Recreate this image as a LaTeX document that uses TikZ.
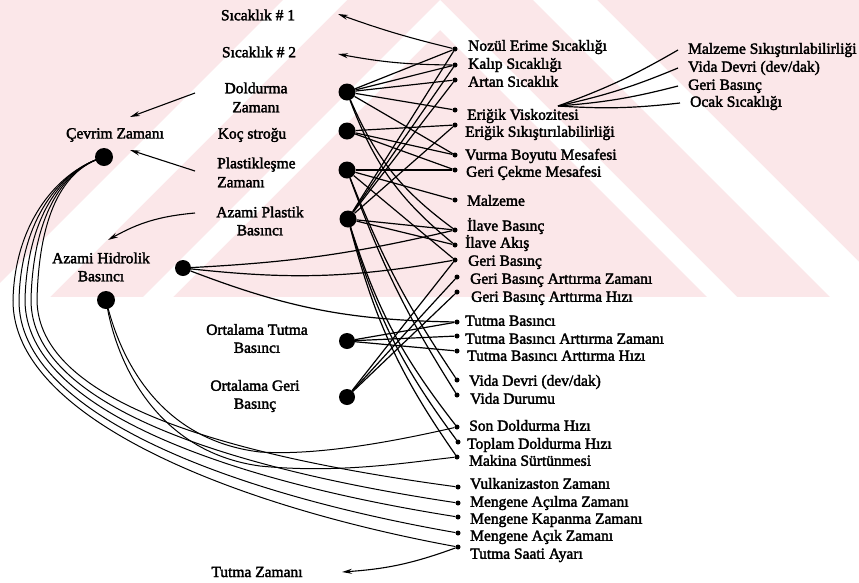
\documentclass[tikz,border=0pt]{standalone}
\usepackage{fontspec}
\setmainfont{Liberation Serif}
\usetikzlibrary{arrows.meta,calc}
\pgfdeclarelayer{wm}
\pgfdeclarelayer{bg}
\pgfsetlayers{wm,bg,main}
\definecolor{wmpink}{RGB}{251,231,233}
% slightly heavier glyphs: fill and stroke the text outlines
\newcommand{\inkytext}{\special{pdf:literal direct 2 Tr 0.35 w}}
\begin{document}
\begin{tikzpicture}[x=1pt,y=-1pt,
  bigdot/.style={circle,fill=black,inner sep=0pt,minimum size=17pt},
  sdot/.style={circle,fill=black,inner sep=0pt,minimum size=5pt},
  lab/.style={font=\fontsize{15.5}{18}\selectfont\inkytext,inner sep=0pt},
  rlab/.style={lab,anchor=west,text height=10.5pt,text depth=3pt},
  link/.style={line width=1.2pt},
  loopline/.style={line width=1pt},
  arr/.style={line width=1.1pt,-{Stealth[length=10pt,width=5pt]}}]
\useasboundingbox (0,0) rectangle (859,582);

% ---------- faint striped background of the upper band ----------
\begin{pgfonlayer}{wm}
  \fill[wmpink] (0,0) rectangle (859,297);
  \begin{scope}
    \clip (0,0) rectangle (859,297);
    % white chevron stripes (v = y - |x-440|)
    \fill[white] (440,0) -- (140,300) -- (170,300) -- (440,30) -- (710,300) -- (740,300) -- cycle;
    \fill[white] (440,-157) -- (-17,300) -- (47,300) -- (440,-93) -- (833,300) -- (897,300) -- cycle;
  \end{scope}
\end{pgfonlayer}

% ---------- right column: small dots and their labels ----------
\node[sdot] (nz) at (455,49) {};  \node[rlab] (nz-t) at (468,47) {Nozül Erime Sıcaklığı};
\node[sdot] (kl) at (455,65) {};  \node[rlab] (kl-t) at (468,65) {Kalıp Sıcaklığı};
\node[sdot] (ar) at (455,80) {};  \node[rlab] (ar-t) at (468,83) {Artan Sıcaklık};
\node[sdot] (ev) at (455,110) {}; \node[rlab] (ev-t) at (467,116) {Eriğik Viskozitesi};
\node[sdot] (es) at (455,125) {}; \node[rlab] (es-t) at (465,133) {Eriğik Sıkıştırılabilirliği};
\node[sdot] (vb) at (455,155) {}; \node[rlab] (vb-t) at (465,156) {Vurma Boyutu Mesafesi};
\node[sdot] (gc) at (455,170) {}; \node[rlab] (gc-t) at (466,173) {Geri Çekme Mesafesi};
\node[sdot] (mz) at (455,200) {}; \node[rlab] (mz-t) at (467,202) {Malzeme};
\node[sdot] (ib) at (455,230) {}; \node[rlab] (ib-t) at (467,227) {İlave Basınç};
\node[sdot] (ia) at (455,245) {}; \node[rlab] (ia-t) at (465,244) {İlave Akış};
\node[sdot] (gb) at (455,260) {}; \node[rlab] (gb-t) at (468,262) {Geri Basınç};
\node[sdot] (gz) at (457,277) {}; \node[rlab] (gz-t) at (470,280) {Geri Basınç Arttırma Zamanı};
\node[sdot] (gh) at (457,292) {}; \node[rlab] (gh-t) at (471,298) {Geri Basınç Arttırma Hızı};
\node[sdot] (tb) at (457,322) {}; \node[rlab] (tb-t) at (465,322) {Tutma Basıncı};
\node[sdot] (tz) at (457,336) {}; \node[rlab] (tz-t) at (465,340) {Tutma Basıncı Arttırma Zamanı};
\node[sdot] (th) at (457,351) {}; \node[rlab] (th-t) at (467,357) {Tutma Basıncı Arttırma Hızı};
\node[sdot] (vd) at (457,380) {}; \node[rlab] (vd-t) at (469,382) {Vida Devri (dev/dak)};
\node[sdot] (vu) at (457,395) {}; \node[rlab] (vu-t) at (470,400) {Vida Durumu};
\node[sdot] (sd) at (457,427) {}; \node[rlab] (sd-t) at (469,427) {Son Doldurma Hızı};
\node[sdot] (td) at (458,442) {}; \node[rlab] (td-t) at (467,445) {Toplam Doldurma Hızı};
\node[sdot] (ms) at (457,457) {}; \node[rlab] (ms-t) at (469,462) {Makina Sürtünmesi};
\node[sdot] (vz) at (458,487) {}; \node[rlab] (vz-t) at (470,485) {Vulkanizaston Zamanı};
\node[sdot] (ma) at (458,503) {}; \node[rlab] (ma-t) at (470,503) {Mengene Açılma Zamanı};
\node[sdot] (mk) at (458,517) {}; \node[rlab] (mk-t) at (470,520) {Mengene Kapanma Zamanı};
\node[sdot] (mc) at (458,533) {}; \node[rlab] (mc-t) at (470,537) {Mengene Açık Zamanı};
\node[sdot] (ts) at (458,547) {}; \node[rlab] (ts-t) at (470,555) {Tutma Saati Ayarı};

% ---------- factors of the melt viscosity ----------
\coordinate (evp) at (558,106);
\node[rlab] (fr1) at (688,50)  {Malzeme Sıkıştırılabilirliği};
\node[rlab] (fr2) at (688,68)  {Vida Devri (dev/dak)};
\node[rlab] (fr3) at (688,86)  {Geri Basınç};
\node[rlab] (fr4) at (690,103) {Ocak Sıcaklığı};

% ---------- big dots ----------
\node[bigdot] (D) at (347,92) {};
\node[bigdot] (K) at (347,131) {};
\node[bigdot] (P) at (347,170) {};
\node[bigdot] (A) at (348,219) {};
\node[bigdot,minimum size=16pt] (T) at (347,341) {};
\node[bigdot,minimum size=16pt] (G) at (347,397) {};
\node[bigdot,minimum size=16pt] (H) at (183,268) {};
\node[bigdot,minimum size=18pt] (B) at (106,300) {};
\node[bigdot,minimum size=18pt] (C) at (104,157) {};

% ---------- left labels ----------
\node[lab] (s1) at (258,15) {Sıcaklık \# 1};
\node[lab] (s2) at (259,52) {Sıcaklık \# 2};
\node[lab,align=center,font=\fontsize{15.5}{19}\selectfont\inkytext] (dz) at (256,97.5) {Doldurma\\Zamanı};
\node[lab] (ks) at (252,135) {Koç stroğu};
\node[lab,align=left,anchor=west,font=\fontsize{15.5}{19}\selectfont\inkytext] (pz) at (217,172.5) {Plastikleşme\\Zamanı};
\node[lab,align=center] (ap) at (260,221) {Azami Plastik\\Basıncı};
\node[lab] (cv) at (115,135) {Çevrim Zamanı};
\node[lab,align=center] (ah) at (101,267) {Azami Hidrolik\\Basıncı};
\node[lab,align=center] (ot) at (257,338.5) {Ortalama Tutma\\Basıncı};
\node[lab,align=center] (og) at (255,396) {Ortalama Geri\\Basınç};
\node[lab] (tzm) at (257,572) {Tutma Zamanı};

% ---------- arrow ends ----------
\coordinate (s1e) at (338,14);
\coordinate (s2e) at (338,54);
\coordinate (a1s) at (195,93);  \coordinate (a1e) at (130,117);
\coordinate (a2s) at (195,171); \coordinate (a2e) at (130,150);
\coordinate (a3s) at (195,213); \coordinate (a3e) at (108,240);
\coordinate (tze) at (342,572);

\begin{pgfonlayer}{bg}
  % straight links between causes and effects
  \foreach \s/\t in {D/nz,D/kl,D/ar,D/ev,D/vb,
                     K/vb,K/gc,K/es,
                     P/mz,P/gc,P/gb,
                     A/nz,A/kl,A/ar,A/es,A/ib,A/ia,
                     T/tb,T/tz,T/th,
                     G/gb,G/gz,G/gh}
    \draw[link] (\s) -- (\t);
  % gently curved links
  \foreach \s/\t/\b in {D/ib/15,D/ia/15,P/vd/6,P/vu/6,
                        A/sd/10,A/td/10,A/ms/10,
                        H/ib/5,H/gb/8,H/tb/10}
    \draw[link] (\s) to[bend right=\b] (\t);

  % long loops from the cycle time dot
  \foreach \e/\lx/\ax/\ay/\bx/\by in {ts/13/12/420/240/507, mc/19/18/415/235/494,
                                      mk/25/25/410/230/481, ma/31/31/405/225/468,
                                      vz/37/38/400/220/455}
    \draw[loopline] (C.center) .. controls (60,170) and (\lx+2,220) .. (\lx,300)
                     .. controls (\ax,\ay) and (\bx,\by) .. (\e);

  % loops from the hydraulic pressure dot
  \draw[loopline] (B.center) .. controls (120,360) and (160,440) .. (260,452)
                   .. controls (320,456) and (400,440) .. (sd);
  \draw[loopline] (B.center) .. controls (116,365) and (158,452) .. (260,466)
                   .. controls (340,474) and (410,462) .. (ms);

  % viscosity fan
  \foreach \f in {fr1,fr2,fr3,fr4}
    \draw[link] (evp) to[bend right=5] ([xshift=-10pt]\f.west);
\end{pgfonlayer}

% ---------- arrows ----------
\draw[arr] (nz) to[bend left=3] (s1e);
\draw[arr] (kl) to[bend left=5] (s2e);
\draw[arr] (a1s) -- (a1e);
\draw[arr] (a2s) -- (a2e);
\draw[arr] (a3s) to[bend right=12] (a3e);
\draw[arr] (ts) to[bend left=8] (tze);
\end{tikzpicture}
\end{document}
